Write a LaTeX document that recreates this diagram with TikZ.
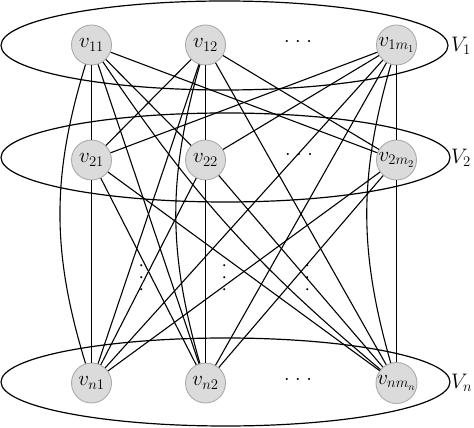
\documentclass[tikz,border=0pt]{standalone}
\usepackage{fix-cm}
\usepackage{fontspec}
\begin{document}
\begin{tikzpicture}[x=1pt,y=1pt,
  vert/.style={circle, draw=black!33, fill=black!14, line width=0.9pt, minimum size=40pt, inner sep=0pt, font=\fontsize{21}{24}\selectfont},
  lab/.style={anchor=west, inner sep=0pt, font=\fontsize{21}{24}\selectfont},
  dotsh/.style={inner sep=0pt, font=\fontsize{20}{24}\selectfont},
  edge/.style={line width=1.1pt},
  ring/.style={line width=1.2pt}]
\useasboundingbox (0,0) rectangle (474,428);
% layer ellipses
\draw[ring] (224.5,382.5) ellipse [x radius=223.5, y radius=44.5];
\draw[ring] (225.5,270.5) ellipse [x radius=224.5, y radius=44.5];
\draw[ring] (225.5,46) ellipse [x radius=224.5, y radius=44];
% vertices
\node[vert] (a11) at (91.5,383) {$v_{11}$};
\node[vert] (a12) at (205.5,383) {$v_{12}$};
\node[vert] (a1m) at (396.5,383) {$v_{1m_1}$};
\node[vert] (a21) at (91.5,268) {$v_{21}$};
\node[vert] (a22) at (205.5,268) {$v_{22}$};
\node[vert] (a2m) at (396.5,268) {$v_{2m_2}$};
\node[vert] (an1) at (91.5,45) {$v_{n1}$};
\node[vert] (an2) at (205.5,45) {$v_{n2}$};
\node[vert] (anm) at (396.5,45) {$v_{nm_n}$};
% labels
\node[lab] (L1) at (451,382) {$V_1$};
\node[lab] (L2) at (451,270) {$V_2$};
\node[lab] (Ln) at (451,45) {$V_n$};
% dots
\node[dotsh] (d1) at (298,386) {$\cdotp\mkern2mu\cdotp\mkern2mu\cdotp$};
\node[dotsh] (d2) at (299,273) {$\cdotp\mkern2mu\cdotp\mkern2mu\cdotp$};
\node[dotsh] (dn) at (298,48) {$\cdotp\mkern2mu\cdotp\mkern2mu\cdotp$};
\node[dotsh, rotate=90] (c1) at (142,150) {$\cdotp\mkern3mu\cdotp\mkern3mu\cdotp$};
\node[dotsh, rotate=90] (c2) at (225,150) {$\cdotp\mkern3mu\cdotp\mkern3mu\cdotp$};
\node[dotsh, rotate=90] (c3) at (308,150) {$\cdotp\mkern3mu\cdotp\mkern3mu\cdotp$};
% edges layer 1 - layer 2
\foreach \u in {a11,a12,a1m}{
  \foreach \w in {a21,a22,a2m}{
    \draw[edge] (\u) -- (\w);
  }
}
% edges layer 2 - layer n
\foreach \u in {a21,a22,a2m}{
  \foreach \w in {an1,an2,anm}{
    \draw[edge] (\u) -- (\w);
  }
}
% edges layer 1 - layer n
\draw[edge] (a11) to[bend right=17] (an1);
\draw[edge] (a11) -- (an2);
\draw[edge] (a11) to[bend right=8] (anm);
\draw[edge] (a12) -- (an1);
\draw[edge] (a12) to[bend right=16] (an2);
\draw[edge] (a12) -- (anm);
\draw[edge] (a1m) -- (an1);
\draw[edge] (a1m) -- (an2);
\draw[edge] (a1m) to[bend right=16] (anm);
\end{tikzpicture}
\end{document}
